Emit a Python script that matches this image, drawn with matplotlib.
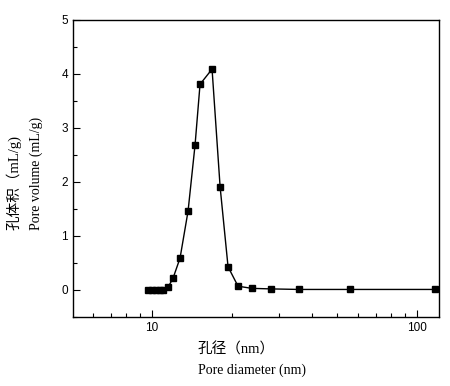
import matplotlib
matplotlib.use("Agg")
import matplotlib.pyplot as plt
from matplotlib.ticker import LogLocator, MultipleLocator, FixedLocator, NullFormatter

# pore size distribution
diameter = [9.66, 10.0, 10.35, 10.72, 11.0, 11.49, 12.0, 12.75, 13.67, 14.53,
            15.17, 16.84, 18.06, 19.35, 21.1, 23.8, 28.1, 35.9, 55.8, 117]
volume = [0.0, 0.0, 0.0, 0.0, 0.0, 0.05, 0.22, 0.59, 1.46, 2.69,
          3.81, 4.09, 1.91, 0.43, 0.07, 0.03, 0.02, 0.01, 0.01, 0.01]

xlabel_cn = "孔径（nm）"
xlabel_en = "Pore diameter (nm)"
ylabel_cn = "孔体积（mL/g)"
ylabel_en = "Pore volume (mL/g)"

label_font = ["Liberation Serif", "Noto Sans CJK SC"]

fig = plt.figure(figsize=(4.5, 3.86), dpi=100)
ax = fig.add_axes([0.1622, 0.1788, 0.8134, 0.7694])

ax.plot(diameter, volume, color="black", linewidth=1.0,
        marker="s", markersize=4.3)

ax.set_xscale("log")
ax.set_xlim(5.03, 121)
ax.set_ylim(-0.5, 5)

ax.xaxis.set_major_locator(FixedLocator([10, 100]))
ax.xaxis.set_minor_locator(LogLocator(base=10, subs=range(2, 10)))
ax.xaxis.set_minor_formatter(NullFormatter())
ax.set_xticklabels(["10", "100"])
ax.yaxis.set_major_locator(MultipleLocator(1))
ax.yaxis.set_minor_locator(MultipleLocator(0.5))

ax.tick_params(which="both", direction="in", labelsize=8.5,
               top=False, right=False)
ax.tick_params(which="major", length=5, width=0.8)
ax.tick_params(which="minor", length=3, width=0.8)
for lab in ax.get_xticklabels() + ax.get_yticklabels():
    lab.set_family("Liberation Sans")
for s in ax.spines.values():
    s.set_linewidth(1.0)

fig.text(198 / 450, 1 - 350 / 386, xlabel_cn, family=label_font,
         fontsize=10.5, ha="left", va="center")
fig.text(198 / 450, 1 - 370 / 386, xlabel_en, family=label_font,
         fontsize=10, ha="left", va="center")
fig.text(14 / 450, 1 - 230 / 386, ylabel_cn, family=label_font,
         fontsize=10.5, rotation=90, ha="center", va="bottom")
fig.text(36 / 450, 1 - 230 / 386, ylabel_en, family=label_font,
         fontsize=10, rotation=90, ha="center", va="bottom")

fig.savefig("out.png", dpi=100)
